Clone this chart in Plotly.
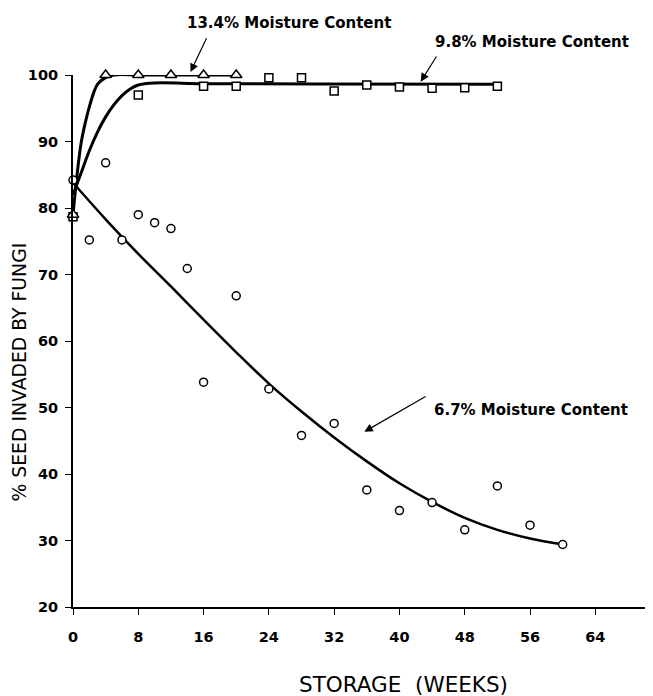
import plotly.graph_objects as go

# ---- observed data (weeks, % seed invaded) ----
weeks_67 = [0, 2, 4, 6, 8, 10, 12, 14, 16, 20, 24, 28, 32, 36, 40, 44, 48, 52, 56, 60]
vals_67 = [84.2, 75.2, 86.8, 75.2, 79.0, 77.8, 76.9, 70.9, 53.8, 66.8, 52.8, 45.8, 47.6,
           37.6, 34.5, 35.7, 31.6, 38.2, 32.3, 29.4]

weeks_98 = [0, 8, 16, 20, 24, 28, 32, 36, 40, 44, 48, 52]
vals_98 = [78.7, 97.0, 98.3, 98.3, 99.6, 99.6, 97.6, 98.5, 98.2, 98.0, 98.1, 98.3]

weeks_134 = [0, 4, 8, 12, 16, 20]
vals_134 = [79.0, 100, 100, 100, 100, 100]

# ---- fitted curves ----
curve_weeks_134 = [0, 0.5, 1, 1.5, 2, 2.5, 3, 4, 5, 8, 12, 16, 20]
curve_vals_134 = [79.0, 85.0, 89.8, 92.8, 95.2, 97.2, 98.6, 99.6, 100, 100, 100, 100, 100]

curve_weeks_98 = [0, 1, 2, 3, 4, 5, 6, 7, 8, 10, 16, 30, 52]
curve_vals_98 = [82.0, 85.3, 88.6, 91.4, 93.7, 95.5, 96.9, 97.9, 98.5, 98.8, 98.7, 98.65, 98.6]

curve_weeks_67 = [0, 4, 8, 12, 16, 20, 24, 28, 32, 36, 40, 44, 48, 52, 56, 60]
curve_vals_67 = [83.8, 78.3, 73.1, 68.2, 63.2, 58.3, 53.6, 49.4, 45.5, 41.9, 38.6, 35.8,
                 33.4, 31.6, 30.3, 29.4]

x_ticks = [0, 8, 16, 24, 32, 40, 48, 56, 64]
y_ticks = [20, 30, 40, 50, 60, 70, 80, 90, 100]

labels = ["13.4% Moisture Content", "9.8% Moisture Content", "6.7% Moisture Content"]

fig = go.Figure()

line_style = dict(color="black", shape="spline")
fig.add_trace(go.Scatter(x=curve_weeks_134, y=curve_vals_134, mode="lines",
                         line=dict(width=3, **line_style), hoverinfo="skip", cliponaxis=False))
fig.add_trace(go.Scatter(x=curve_weeks_98, y=curve_vals_98, mode="lines",
                         line=dict(width=3, **line_style), hoverinfo="skip", cliponaxis=False))
fig.add_trace(go.Scatter(x=curve_weeks_67, y=curve_vals_67, mode="lines",
                         line=dict(width=2.5, **line_style), hoverinfo="skip", cliponaxis=False))

mk_line = dict(color="black", width=1.5)
fig.add_trace(go.Scatter(x=weeks_98, y=vals_98, mode="markers", cliponaxis=False,
                         marker=dict(symbol="square", size=8, color="white", line=mk_line)))
fig.add_trace(go.Scatter(x=weeks_134, y=vals_134, mode="markers", cliponaxis=False,
                         marker=dict(symbol="triangle-up", size=10, color="white", line=mk_line)))
fig.add_trace(go.Scatter(x=weeks_67, y=vals_67, mode="markers", cliponaxis=False,
                         marker=dict(symbol="circle", size=8, color="white", line=mk_line)))

bold = dict(family="DejaVu Sans", size=15, color="black", weight="bold")
arrow = dict(text="", showarrow=True, arrowhead=2, arrowsize=1.4, arrowwidth=1.2,
             arrowcolor="black")

annotations = [
    # labels
    dict(x=13.76, y=1.098, yref="paper", text=labels[0], xanchor="left", yanchor="middle",
         showarrow=False, font=bold),
    dict(x=44.15, y=1.0626, yref="paper", text=labels[1], xanchor="left", yanchor="middle",
         showarrow=False, font=bold),
    dict(x=44.0, y=0.3703, yref="paper", text=labels[2], xanchor="left", yanchor="middle",
         showarrow=False, font=bold),
    # arrows
    dict(x=14.4, y=1.0056, yref="paper", ax=16.7, ay=-35.3, **arrow),
    dict(x=42.6, y=0.9874, yref="paper", ax=16.7, ay=-26.7, **arrow),
    dict(x=35.7, y=0.3295, yref="paper", ax=62.7, ay=-36, **arrow),
    # axis titles
    dict(x=-0.092, y=0.4425, xref="paper", yref="paper", text="% SEED INVADED BY FUNGI",
         textangle=-90, showarrow=False, xanchor="center", yanchor="middle",
         font=dict(family="DejaVu Sans", size=18.8, color="black")),
    dict(x=0.572, y=-0.1466, xref="paper", yref="paper", text="STORAGE  (WEEKS)",
         showarrow=False, xanchor="center", yanchor="middle",
         font=dict(family="DejaVu Sans", size=21.5, color="black")),
]

fig.update_layout(
    width=645, height=688,
    margin=dict(l=65, r=3, t=67, b=89),
    paper_bgcolor="white", plot_bgcolor="white",
    showlegend=False,
    annotations=annotations,
    xaxis=dict(range=[0, 70.7], tickvals=x_ticks, ticks="outside", ticklen=6,
               tickwidth=1.2, tickcolor="black", showline=True, linecolor="black",
               linewidth=2, showgrid=False, zeroline=False, ticklabelstandoff=10,
               tickfont=dict(family="DejaVu Sans", size=14.5, color="black", weight="bold")),
    yaxis=dict(range=[20, 100], tickvals=y_ticks, ticks="outside", ticklen=6,
               tickwidth=1.2, tickcolor="black", showline=True, linecolor="black",
               linewidth=2, showgrid=False, zeroline=False, ticklabelstandoff=4,
               tickfont=dict(family="DejaVu Sans", size=14.5, color="black", weight="bold")),
)

fig.write_html("out.html")
